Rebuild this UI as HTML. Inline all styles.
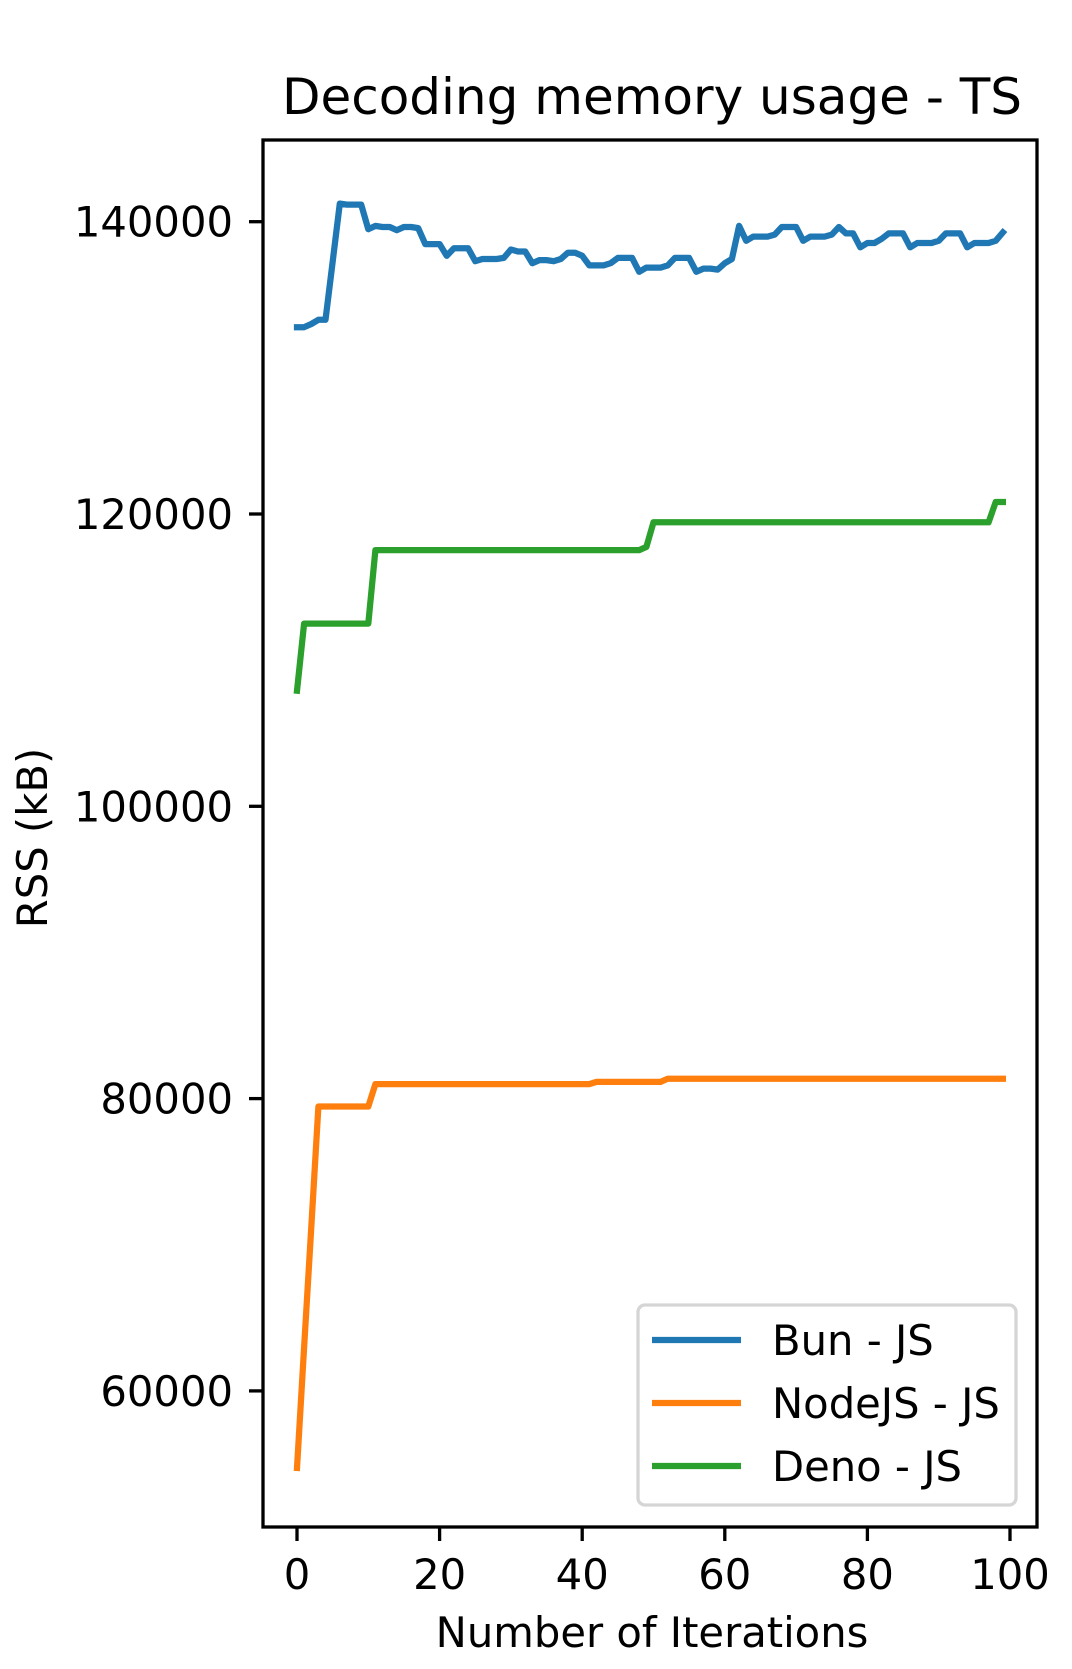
<!DOCTYPE html>
<html><head><meta charset="utf-8"><style>
html,body{margin:0;padding:0;background:#fff;}
svg{display:block;font-family:"DejaVu Sans","Liberation Sans",sans-serif;}
</style></head><body>
<svg id="chart" width="1072" height="1669" viewBox="0 0 1072 1669" xmlns="http://www.w3.org/2000/svg">
<rect width="1072" height="1669" fill="#fff"/>
<text x="652" y="114" font-size="50" text-anchor="middle">Decoding memory usage - TS</text>
<g id="plot"></g>
<rect x="263" y="140" width="774" height="1387" fill="none" stroke="#000" stroke-width="3.3"/>
<text x="652" y="1647" font-size="41.7" text-anchor="middle">Number of Iterations</text>
<text transform="translate(47,838) rotate(-90)" font-size="41.7" text-anchor="middle">RSS (kB)</text>
<g>
<rect x="638" y="1305" width="378" height="200" rx="7" fill="#fff" fill-opacity="0.8" stroke="#d5d5d5" stroke-width="3.3"/>
<line x1="652" y1="1340" x2="741" y2="1340" stroke="#1f77b4" stroke-width="6.25"/>
<text x="772" y="1355" font-size="41.7">Bun - JS</text>
<line x1="652" y1="1403" x2="741" y2="1403" stroke="#ff7f0e" stroke-width="6.25"/>
<text x="772" y="1418" font-size="41.7">NodeJS - JS</text>
<line x1="652" y1="1466" x2="741" y2="1466" stroke="#2ca02c" stroke-width="6.25"/>
<text x="772" y="1481" font-size="41.7">Deno - JS</text>
</g>
</svg>
<script>
const xTicks = [0, 20, 40, 60, 80, 100];
const yTicks = [60000, 80000, 100000, 120000, 140000];
const bunValues = [132780,132780,133000,133290,133290,137230,141240,141170,141170,141170,
139490,139710,139640,139640,139420,139640,139640,139560,138470,138470,
138470,137670,138180,138180,138180,137300,137450,137450,137450,137520,
138100,137960,137960,137160,137370,137370,137300,137450,137880,137880,
137670,137010,137010,137010,137160,137520,137520,137520,136570,136860,
136860,136860,137010,137520,137520,137520,136570,136790,136790,136720,
137160,137450,139710,138690,138980,138980,138980,139120,139640,139640,
139640,138690,138980,138980,138980,139120,139640,139200,139200,138250,
138540,138540,138830,139200,139200,139200,138250,138540,138540,138540,
138690,139200,139200,139200,138250,138540,138540,138540,138690,139270];
const nodeValues = [54730,62975,71220];
for (let i = 3; i <= 10; i++) nodeValues.push(79460);
for (let i = 11; i <= 41; i++) nodeValues.push(80990);
for (let i = 42; i <= 51; i++) nodeValues.push(81140);
for (let i = 52; i <= 99; i++) nodeValues.push(81360);
const denoValues = [107910];
for (let i = 1; i <= 10; i++) denoValues.push(112500);
for (let i = 11; i <= 48; i++) denoValues.push(117530);
denoValues.push(117750);
for (let i = 50; i <= 97; i++) denoValues.push(119430);
denoValues.push(120820, 120820);

const NS = 'http://www.w3.org/2000/svg';
const plot = document.getElementById('plot');
const svg = document.getElementById('chart');
function xs(v){ return 297 + v * 7.13; }
function ys(v){ return 221.7 + (140000 - v) / 20000 * 292.3; }

function series(vals, color, name){
  const p = document.createElementNS(NS, 'polyline');
  p.setAttribute('points', vals.map((v,i)=>xs(i).toFixed(1)+','+ys(v).toFixed(1)).join(' '));
  p.setAttribute('fill','none');
  p.setAttribute('stroke',color);
  p.setAttribute('stroke-width','6.25');
  p.setAttribute('stroke-linejoin','round');
  p.setAttribute('stroke-linecap','square');
  
  
  plot.appendChild(p);
}
series(bunValues, '#1f77b4', 'bun-line');
series(nodeValues, '#ff7f0e', 'nodejs-line');
series(denoValues, '#2ca02c', 'deno-line');

xTicks.forEach(t=>{
  const l = document.createElementNS(NS,'line');
  l.setAttribute('x1',xs(t)); l.setAttribute('x2',xs(t));
  l.setAttribute('y1',1527); l.setAttribute('y2',1541);
  l.setAttribute('stroke','#000'); l.setAttribute('stroke-width','3.3');
  
  
  svg.appendChild(l);
  const tx = document.createElementNS(NS,'text');
  tx.setAttribute('x',xs(t)); tx.setAttribute('y',1589);
  tx.setAttribute('font-size','41.7'); tx.setAttribute('text-anchor','middle');
  tx.textContent = t;
  
  
  svg.appendChild(tx);
});
yTicks.forEach(t=>{
  const l = document.createElementNS(NS,'line');
  l.setAttribute('x1',249); l.setAttribute('x2',263);
  l.setAttribute('y1',ys(t)); l.setAttribute('y2',ys(t));
  l.setAttribute('stroke','#000'); l.setAttribute('stroke-width','3.3');
  
  
  svg.appendChild(l);
  const tx = document.createElementNS(NS,'text');
  tx.setAttribute('x',233); tx.setAttribute('y',ys(t)+15);
  tx.setAttribute('font-size','41.7'); tx.setAttribute('text-anchor','end');
  tx.textContent = t;
  
  
  svg.appendChild(tx);
});
</script>
</body></html>
